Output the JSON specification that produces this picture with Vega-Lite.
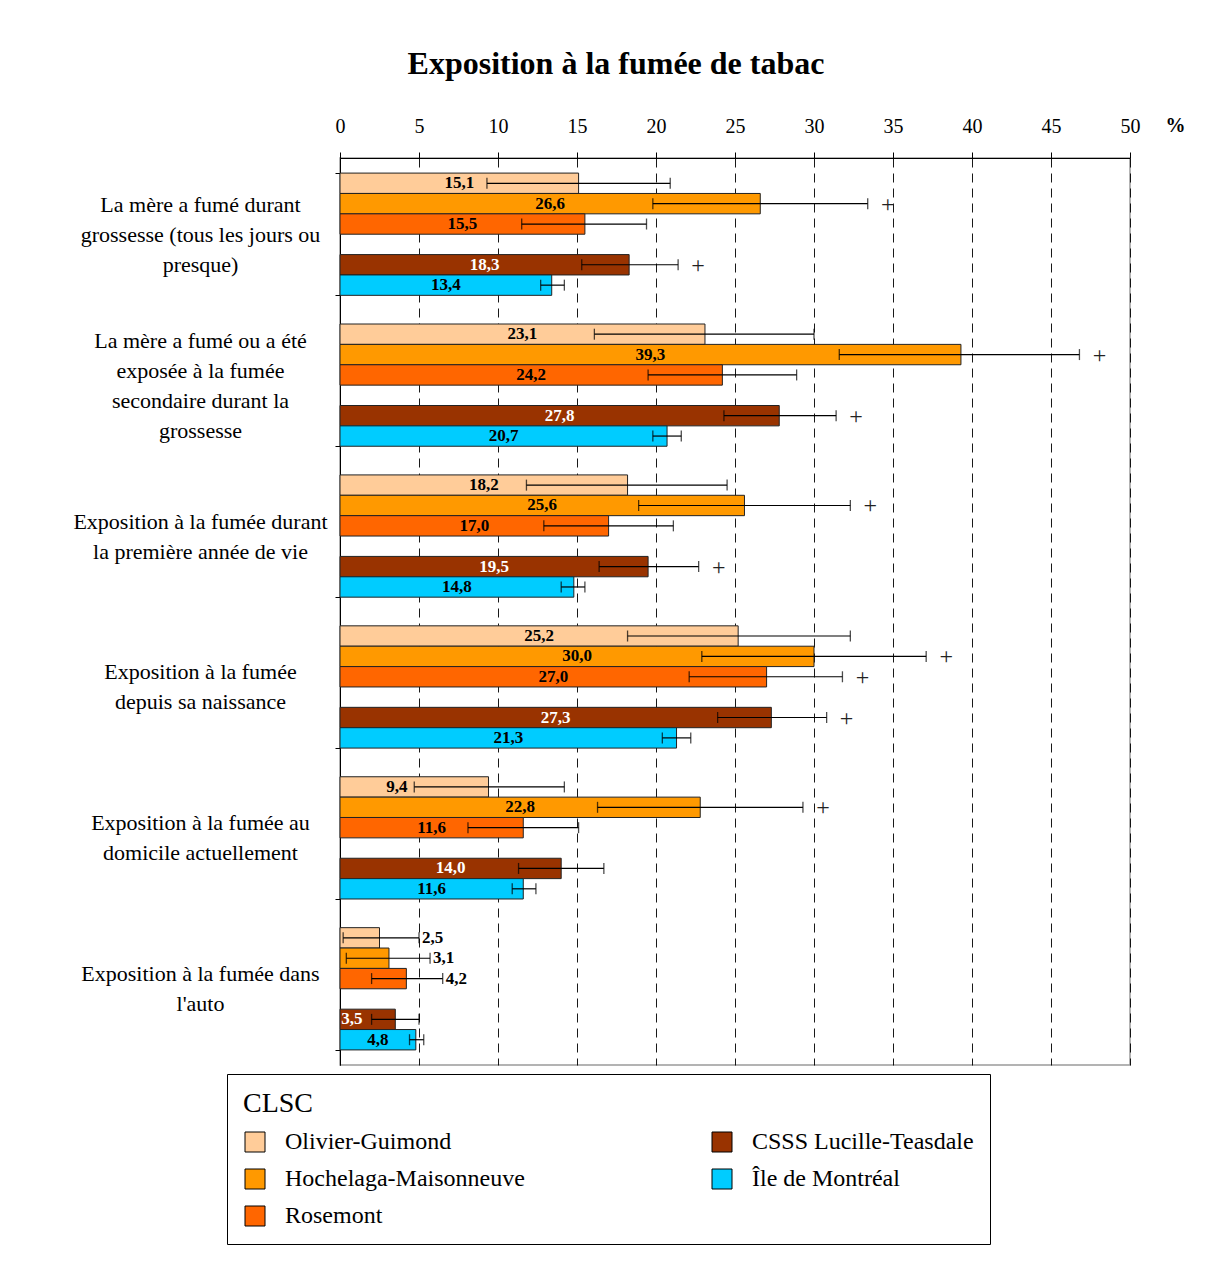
{
  "$schema": "https://vega.github.io/schema/vega-lite/v6.json",
  "width": 790,
  "height": 907,
  "autosize": {"type": "none"},
  "padding": {"left": 340, "top": 158, "right": 99, "bottom": 212},
  "background": "white",
  "title": {"text": "Exposition à la fumée de tabac", "font": "Liberation Serif", "fontSize": 32, "fontWeight": "bold", "anchor": "middle", "dx": -119, "offset": 34, "color": "black"},
  "config": {"view": {"stroke": "#9a9a9a", "strokeWidth": 1.5}, "font": "Liberation Serif"},
  "data": {"values": [
    {"cat": "La mère a fumé durant|grossesse (tous les jours ou|presque)", "serie": "Olivier-Guimond", "value": 15.1, "lo": 9.3, "hi": 20.9, "sig": false},
    {"cat": "La mère a fumé durant|grossesse (tous les jours ou|presque)", "serie": "Hochelaga-Maisonneuve", "value": 26.6, "lo": 19.8, "hi": 33.4, "sig": true},
    {"cat": "La mère a fumé durant|grossesse (tous les jours ou|presque)", "serie": "Rosemont", "value": 15.5, "lo": 11.5, "hi": 19.4, "sig": false},
    {"cat": "La mère a fumé durant|grossesse (tous les jours ou|presque)", "serie": "CSSS Lucille-Teasdale", "value": 18.3, "lo": 15.3, "hi": 21.4, "sig": true},
    {"cat": "La mère a fumé durant|grossesse (tous les jours ou|presque)", "serie": "Île de Montréal", "value": 13.4, "lo": 12.7, "hi": 14.2, "sig": false},
    {"cat": "La mère a fumé ou a été|exposée à la fumée|secondaire durant la|grossesse", "serie": "Olivier-Guimond", "value": 23.1, "lo": 16.1, "hi": 30.0, "sig": false},
    {"cat": "La mère a fumé ou a été|exposée à la fumée|secondaire durant la|grossesse", "serie": "Hochelaga-Maisonneuve", "value": 39.3, "lo": 31.6, "hi": 46.8, "sig": true},
    {"cat": "La mère a fumé ou a été|exposée à la fumée|secondaire durant la|grossesse", "serie": "Rosemont", "value": 24.2, "lo": 19.5, "hi": 28.9, "sig": false},
    {"cat": "La mère a fumé ou a été|exposée à la fumée|secondaire durant la|grossesse", "serie": "CSSS Lucille-Teasdale", "value": 27.8, "lo": 24.3, "hi": 31.4, "sig": true},
    {"cat": "La mère a fumé ou a été|exposée à la fumée|secondaire durant la|grossesse", "serie": "Île de Montréal", "value": 20.7, "lo": 19.8, "hi": 21.6, "sig": false},
    {"cat": "Exposition à la fumée durant|la première année de vie", "serie": "Olivier-Guimond", "value": 18.2, "lo": 11.8, "hi": 24.5, "sig": false},
    {"cat": "Exposition à la fumée durant|la première année de vie", "serie": "Hochelaga-Maisonneuve", "value": 25.6, "lo": 18.9, "hi": 32.3, "sig": true},
    {"cat": "Exposition à la fumée durant|la première année de vie", "serie": "Rosemont", "value": 17.0, "lo": 12.9, "hi": 21.1, "sig": false},
    {"cat": "Exposition à la fumée durant|la première année de vie", "serie": "CSSS Lucille-Teasdale", "value": 19.5, "lo": 16.4, "hi": 22.7, "sig": true},
    {"cat": "Exposition à la fumée durant|la première année de vie", "serie": "Île de Montréal", "value": 14.8, "lo": 14.0, "hi": 15.5, "sig": false},
    {"cat": "Exposition à la fumée|depuis sa naissance", "serie": "Olivier-Guimond", "value": 25.2, "lo": 18.2, "hi": 32.3, "sig": false},
    {"cat": "Exposition à la fumée|depuis sa naissance", "serie": "Hochelaga-Maisonneuve", "value": 30.0, "lo": 22.9, "hi": 37.1, "sig": true},
    {"cat": "Exposition à la fumée|depuis sa naissance", "serie": "Rosemont", "value": 27.0, "lo": 22.1, "hi": 31.8, "sig": true},
    {"cat": "Exposition à la fumée|depuis sa naissance", "serie": "CSSS Lucille-Teasdale", "value": 27.3, "lo": 23.9, "hi": 30.8, "sig": true},
    {"cat": "Exposition à la fumée|depuis sa naissance", "serie": "Île de Montréal", "value": 21.3, "lo": 20.4, "hi": 22.2, "sig": false},
    {"cat": "Exposition à la fumée au|domicile actuellement", "serie": "Olivier-Guimond", "value": 9.4, "lo": 4.7, "hi": 14.2, "sig": false},
    {"cat": "Exposition à la fumée au|domicile actuellement", "serie": "Hochelaga-Maisonneuve", "value": 22.8, "lo": 16.3, "hi": 29.3, "sig": true},
    {"cat": "Exposition à la fumée au|domicile actuellement", "serie": "Rosemont", "value": 11.6, "lo": 8.1, "hi": 15.1, "sig": false},
    {"cat": "Exposition à la fumée au|domicile actuellement", "serie": "CSSS Lucille-Teasdale", "value": 14.0, "lo": 11.3, "hi": 16.7, "sig": false},
    {"cat": "Exposition à la fumée au|domicile actuellement", "serie": "Île de Montréal", "value": 11.6, "lo": 10.9, "hi": 12.4, "sig": false},
    {"cat": "Exposition à la fumée dans|l'auto", "serie": "Olivier-Guimond", "value": 2.5, "lo": 0.2, "hi": 5.0, "sig": false},
    {"cat": "Exposition à la fumée dans|l'auto", "serie": "Hochelaga-Maisonneuve", "value": 3.1, "lo": 0.4, "hi": 5.7, "sig": false},
    {"cat": "Exposition à la fumée dans|l'auto", "serie": "Rosemont", "value": 4.2, "lo": 2.0, "hi": 6.5, "sig": false},
    {"cat": "Exposition à la fumée dans|l'auto", "serie": "CSSS Lucille-Teasdale", "value": 3.5, "lo": 2.0, "hi": 5.0, "sig": false},
    {"cat": "Exposition à la fumée dans|l'auto", "serie": "Île de Montréal", "value": 4.8, "lo": 4.4, "hi": 5.3, "sig": false}
  ]},
  "transform": [
    {"calculate": "replace(format(datum.value, '.1f'), '.', ',')", "as": "lab"},
    {"calculate": "datum.value < 5 && datum.serie != 'CSSS Lucille-Teasdale' && datum.serie != 'Île de Montréal'", "as": "outside"},
    {"calculate": "datum.value < 5 && datum.serie == 'CSSS Lucille-Teasdale' ? 0.75 : (abs(datum.value / 2 - datum.lo) < 1 ? datum.lo - 1.1 : datum.value / 2)", "as": "lx"}
  ],
  "encoding": {
    "y": {
      "field": "cat", "type": "nominal", "sort": null,
      "scale": {"paddingInner": 0.19, "paddingOuter": 0.1},
      "axis": {"title": null, "labelExpr": "split(datum.label, '|')", "labelAlign": "center", "labelBaseline": "middle", "labelPadding": 135,
        "labelOffset": {"condition": [{"test": "length(split(datum.value, '|')) == 4", "value": -45}, {"test": "length(split(datum.value, '|')) == 3", "value": -30}], "value": -15},
        "labelFontSize": 22, "labelFont": "Liberation Serif", "labelColor": "black", "labelLineHeight": 30, "labelLimit": 0, "tickBand": "extent", "tickSize": 5, "tickColor": "black", "domainColor": "black", "grid": false}
    },
    "yOffset": {
      "field": "serie", "type": "nominal",
      "scale": {"domain": ["Olivier-Guimond", "Hochelaga-Maisonneuve", "Rosemont", "gap", "CSSS Lucille-Teasdale", "Île de Montréal"], "paddingInner": 0, "paddingOuter": 0}
    }
  },
  "layer": [
    {
      "mark": {"type": "bar", "stroke": "#222222", "strokeWidth": 1},
      "encoding": {
        "x": {"field": "value", "type": "quantitative", "scale": {"domain": [0, 50], "nice": false},
          "axis": {"orient": "top", "values": [0, 5, 10, 15, 20, 25, 30, 35, 40, 45, 50], "title": "%", "titleX": 835, "titleY": -33, "titleAngle": 0, "titleFontWeight": "bold", "titleFontSize": 20, "titleFont": "Liberation Serif", "titleColor": "black", "titleBaseline": "middle", "titleAlign": "center", "labelFontSize": 20, "labelFont": "Liberation Serif", "labelColor": "black", "labelPadding": 16, "labelFlush": false, "labelOverlap": false, "tickSize": 6, "tickColor": "black", "domainColor": "black", "grid": true, "gridDash": [9, 6], "gridColor": "black", "gridOpacity": 0.9}},
        "color": {
          "field": "serie", "type": "nominal",
          "scale": {"domain": ["Olivier-Guimond", "Hochelaga-Maisonneuve", "Rosemont", "CSSS Lucille-Teasdale", "Île de Montréal"], "range": ["#FFCC99", "#FF9900", "#FF6600", "#993300", "#00CCFF"]},
          "legend": {"title": "CLSC", "orient": "none", "legendX": -113, "legendY": 916, "columns": 2, "columnPadding": 185, "rowPadding": 13, "symbolType": "square", "symbolSize": 400, "symbolStrokeColor": "black", "symbolStrokeWidth": 1, "labelFont": "Liberation Serif", "labelFontSize": 24, "labelColor": "black", "labelOffset": 18, "labelLimit": 0, "titleFont": "Liberation Serif", "titleFontSize": 28, "titleFontWeight": "normal", "titleColor": "black", "titlePadding": 12, "strokeColor": "black", "padding": 16}
        }
      }
    },
    {
      "mark": {"type": "rule", "color": "black", "strokeWidth": 1.2},
      "encoding": {"x": {"field": "lo", "type": "quantitative"}, "x2": {"field": "hi"}}
    },
    {
      "mark": {"type": "tick", "orient": "vertical", "color": "black", "size": 11, "thickness": 1.3},
      "encoding": {"x": {"field": "lo", "type": "quantitative"}}
    },
    {
      "mark": {"type": "tick", "orient": "vertical", "color": "black", "size": 11, "thickness": 1.3},
      "encoding": {"x": {"field": "hi", "type": "quantitative"}}
    },
    {
      "transform": [{"filter": "!datum.outside"}],
      "mark": {"type": "text", "font": "Liberation Serif", "fontSize": 17, "fontWeight": "bold", "align": "center", "baseline": "middle"},
      "encoding": {
        "x": {"field": "lx", "type": "quantitative"},
        "text": {"field": "lab"},
        "color": {"condition": {"test": "datum.serie == 'CSSS Lucille-Teasdale'", "value": "white"}, "value": "black"}
      }
    },
    {
      "transform": [{"filter": "datum.outside"}],
      "mark": {"type": "text", "font": "Liberation Serif", "fontSize": 17, "fontWeight": "bold", "align": "left", "baseline": "middle", "dx": 3, "color": "black"},
      "encoding": {
        "x": {"field": "hi", "type": "quantitative"},
        "text": {"field": "lab"}
      }
    },
    {
      "transform": [{"filter": "datum.sig"}],
      "mark": {"type": "text", "font": "Liberation Serif", "fontSize": 24, "align": "center", "baseline": "middle", "dx": 20, "dy": 1, "color": "#222222", "text": "+"},
      "encoding": {
        "x": {"field": "hi", "type": "quantitative"}
      }
    }
  ]
}
